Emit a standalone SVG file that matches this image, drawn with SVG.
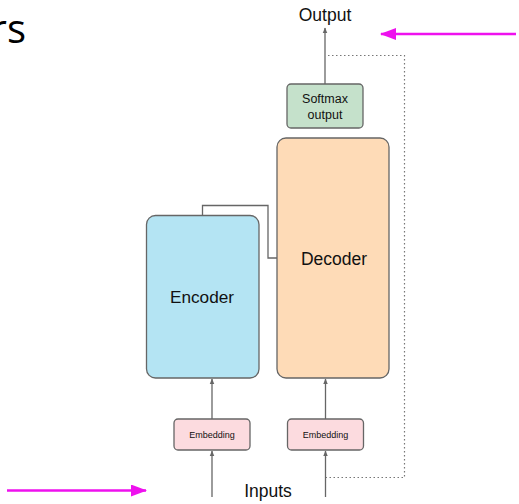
<svg xmlns="http://www.w3.org/2000/svg" width="519" height="504" viewBox="0 0 519 504">
<defs>
<style>
.box{stroke:#666;stroke-width:1.3}
.lbl{font-family:"Liberation Sans",Arial,sans-serif;fill:#111;text-anchor:middle}
.ln{stroke:#666;stroke-width:1.3;fill:none}
.mg{stroke:#ee11ee;stroke-width:2.5;fill:none}
</style>
<marker id="ah" viewBox="0 0 10 10" refX="9" refY="5" markerWidth="6" markerHeight="6" markerUnits="userSpaceOnUse" orient="auto">
<path d="M0,1 L10,5 L0,9 z" fill="#666"/>
</marker>
<marker id="mah" viewBox="0 0 16 12" refX="15" refY="6" markerWidth="16" markerHeight="12" markerUnits="userSpaceOnUse" orient="auto">
<path d="M0,0 L16,6 L0,12 z" fill="#ee11ee"/>
</marker>
</defs>
<rect width="519" height="504" fill="#fff"/>
<text x="26" y="43" font-family="'Open Sans','Noto Sans',sans-serif" font-size="40" fill="#000" text-anchor="end">rs</text>
<g id="connectors">
<line class="ln" x1="325" y1="84" x2="325" y2="28" marker-end="url(#ah)"/>
<line class="ln" x1="212" y1="419" x2="212" y2="379" marker-end="url(#ah)"/>
<line class="ln" x1="212" y1="497" x2="212" y2="451" marker-end="url(#ah)"/>
<line class="ln" x1="325.5" y1="419" x2="325.5" y2="379" marker-end="url(#ah)"/>
<line class="ln" x1="325.5" y1="497" x2="325.5" y2="451" marker-end="url(#ah)"/>
<polyline class="ln" points="202.5,215.5 202.5,205.5 268,205.5 268,258 277,258"/>
<polyline points="328,55.5 404.5,55.5 404.5,477.5 326,477.5" fill="none" stroke="#777" stroke-width="1.2" stroke-dasharray="1.5,2.5"/>
<line class="mg" x1="516" y1="34" x2="381" y2="34" marker-end="url(#mah)"/>
<line class="mg" x1="7" y1="490.5" x2="146" y2="490.5" marker-end="url(#mah)"/>
</g>
<g id="output-label"><text class="lbl" x="325" y="21" font-size="17.5">Output</text></g>
<g id="inputs-label"><text class="lbl" x="268" y="497" font-size="17.5">Inputs</text></g>
<g id="softmax">
<rect class="box" x="287" y="84" width="76" height="44" rx="4" fill="#c5e1cb"/>
<text class="lbl" x="325" y="103" font-size="12.5">Softmax</text>
<text class="lbl" x="325" y="119" font-size="12.5">output</text>
</g>
<g id="decoder">
<rect class="box" x="277" y="138" width="112" height="240" rx="9" fill="#fedbb7"/>
<text class="lbl" x="334" y="265" font-size="17.5">Decoder</text>
</g>
<g id="encoder">
<rect class="box" x="146.5" y="215.5" width="112.5" height="162.5" rx="9" fill="#b4e4f3"/>
<text class="lbl" x="202" y="303" font-size="17.2">Encoder</text>
</g>
<g id="embedding-enc">
<rect class="box" x="174" y="419" width="76" height="31" rx="4" fill="#fcdbdf"/>
<text class="lbl" x="212" y="438" font-size="9">Embedding</text>
</g>
<g id="embedding-dec">
<rect class="box" x="287.5" y="419" width="76" height="31" rx="4" fill="#fcdbdf"/>
<text class="lbl" x="325.5" y="438" font-size="9">Embedding</text>
</g>
</svg>
